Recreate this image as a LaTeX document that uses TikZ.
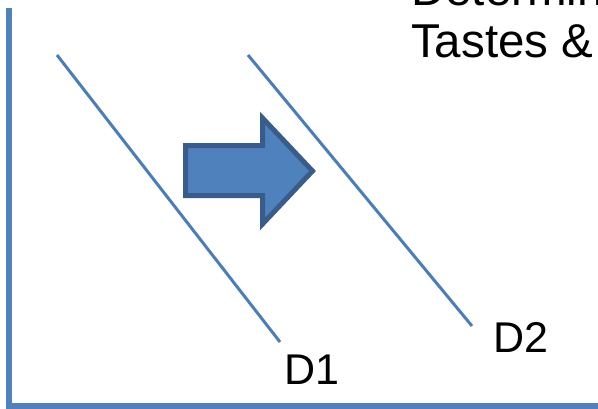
\documentclass[tikz,border=0pt]{standalone}
\usepackage{fontspec}
\setmainfont{Liberation Sans}
\definecolor{ablue}{HTML}{4F81BD}
\definecolor{lblue}{HTML}{4A7EBB}
\definecolor{dblue}{HTML}{385D8A}
\tikzset{
  axisline/.style={draw=ablue, line width=5.5pt},
  demandline/.style={draw=lblue, line width=3pt},
  bigtext/.style={inner sep=0pt, anchor=base west, font=\fontsize{47.5}{57}\selectfont},
  dlabel/.style={inner sep=0pt, anchor=base west, font=\fontsize{43}{50}\selectfont},
  shiftarrow/.style={fill=ablue, draw=dblue, line width=5pt, miter limit=10}
}
\begin{document}
\begin{tikzpicture}[x=1pt, y=-1pt]
\useasboundingbox (0,0) rectangle (598,408);
\clip (0,0) rectangle (598,408);
% axes
\coordinate (top) at (9,8);
\coordinate (origin) at (9,406);
\coordinate (right) at (600,406);
\draw[axisline] (top) -- (origin) -- (right);
% demand curves
\coordinate (d1s) at (57,55);
\coordinate (d1e) at (280,342);
\coordinate (d2s) at (248,55);
\coordinate (d2e) at (472,326);
\draw[demandline] (d1s) -- (d1e);
\draw[demandline] (d2s) -- (d2e);
% labels
\node[dlabel] (l1) at (284,384) {D1};
\node[dlabel] (l2) at (493,352) {D2};
% title text (clipped)
\node[bigtext] (t1) at (411,5) {Determinants};
\node[bigtext] (t2) at (411,57) {Tastes \&};
% block arrow
\draw[shiftarrow] (185.5,145.5) -- (262.5,145.5) -- (262.5,118) -- (312.5,171)
  -- (262.5,224) -- (262.5,195.5) -- (185.5,195.5) -- cycle;
\end{tikzpicture}
\end{document}
